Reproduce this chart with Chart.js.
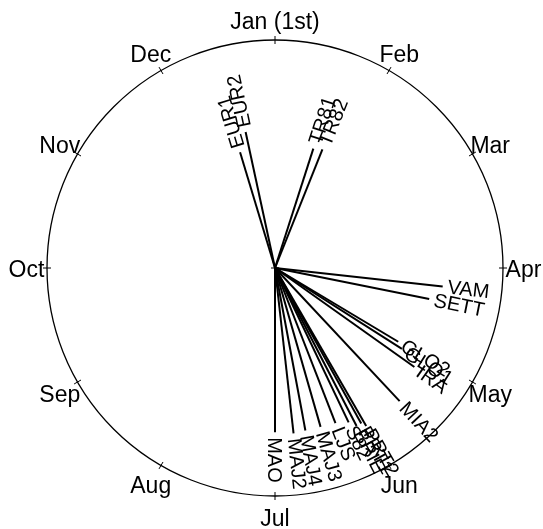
<!DOCTYPE html>
<html>
<head>
<meta charset="utf-8">
<script src="https://cdn.jsdelivr.net/npm/chart.js@4.4.1/dist/chart.umd.min.js"></script>
<style>
html,body{margin:0;padding:0;background:#fff;}
#c{display:block;}
</style>
</head>
<body>
<canvas id="c" width="543" height="529"></canvas>
<script>
// Month labels around the circle (clockwise from top)
const monthLabels = ["Jan (1st)","Feb","Mar","Apr","May","Jun","Jul","Aug","Sep","Oct","Nov","Dec"];
// Stations
const stations = ["EUR1","EUR2","TR81","TR82","VAM","SETT","GLO2","GLO1","IRA","MIA2","MAO","MAJ2","MAJ4","MAJ3","LJS","S82","BRIE","PRT1","PRT2"];
// Mean direction (degrees clockwise from Jan 1st)
const meanAngle = [343.2,347.8,17.8,21.8,96.3,101.4,120.9,122.5,125.4,136.9,180.0,173.6,169.4,164.0,158.7,154.5,152.7,151.0,150.0];
// Mean resultant length (0..1)
const resLength = [0.53,0.61,0.55,0.56,0.74,0.69,0.63,0.66,0.75,0.80,0.72,0.73,0.725,0.725,0.73,0.75,0.78,0.78,0.80];

const toXY = (deg, r) => {
  const a = deg * Math.PI / 180;
  return {x: r * Math.sin(a), y: r * Math.cos(a)};
};

const datasets = stations.map((s, i) => ({
  label: s,
  data: [{x:0,y:0}, toXY(meanAngle[i], resLength[i])],
  showLine: true,
  borderColor: '#000',
  borderWidth: 2,
  pointRadius: 0,
  fill: false
}));

const FONT = '"Liberation Sans", Arial, Helvetica, sans-serif';

const circlePlugin = {
  id: 'circ',
  beforeDatasetsDraw(chart) {
    const {ctx, scales:{x, y}} = chart;
    const cx = x.getPixelForValue(0), cy = y.getPixelForValue(0);
    const R = x.getPixelForValue(1) - cx;
    ctx.save();
    ctx.strokeStyle = '#000';
    ctx.lineWidth = 1.3;
    ctx.beginPath();
    ctx.arc(cx, cy, R, 0, Math.PI * 2);
    ctx.stroke();
    // month ticks and labels
    ctx.lineWidth = 1;
    ctx.fillStyle = '#000';
    ctx.font = '23px ' + FONT;
    ctx.textAlign = 'center';
    ctx.textBaseline = 'middle';
    monthLabels.forEach((m, i) => {
      const a = i * 30 * Math.PI / 180;
      const sx = Math.sin(a), sy = -Math.cos(a);
      ctx.beginPath();
      ctx.moveTo(cx + sx * (R - 4), cy + sy * (R - 4));
      ctx.lineTo(cx + sx * (R + 4), cy + sy * (R + 4));
      ctx.stroke();
      const lr = R * 1.09;
      ctx.fillText(m, cx + sx * lr, cy + sy * lr + 3);
    });
    // centre mark
    ctx.beginPath();
    ctx.moveTo(cx - 4, cy);
    ctx.lineTo(cx + 4, cy);
    ctx.moveTo(cx, cy - 4);
    ctx.lineTo(cx, cy + 4);
    ctx.stroke();
    ctx.restore();
  },
  afterDatasetsDraw(chart) {
    const {ctx, scales:{x, y}} = chart;
    ctx.save();
    ctx.fillStyle = '#000';
    ctx.font = '20px ' + FONT;
    ctx.textAlign = 'left';
    ctx.textBaseline = 'middle';
    stations.forEach((s, i) => {
      const p = toXY(meanAngle[i], resLength[i]);
      const px = x.getPixelForValue(p.x), py = y.getPixelForValue(p.y);
      const rot = (meanAngle[i] - 90) * Math.PI / 180;
      ctx.save();
      ctx.translate(px, py);
      ctx.rotate(rot);
      ctx.fillText(s, 5, 1);
      ctx.restore();
    });
    ctx.restore();
  }
};

// pixel-square mapping: centre at (275,268), radius 228 px
const R_PX = 228, CX = 275, CY = 268, W = 543, H = 529;

new Chart(document.getElementById('c'), {
  type: 'scatter',
  data: { datasets },
  options: {
    responsive: false,
    animation: false,
    events: [],
    layout: { padding: 0 },
    plugins: { legend: { display: false }, tooltip: { enabled: false } },
    scales: {
      x: { type: 'linear', display: false, min: -CX / R_PX, max: (W - CX) / R_PX },
      y: { type: 'linear', display: false, min: -(H - CY) / R_PX, max: CY / R_PX }
    }
  },
  plugins: [circlePlugin]
});
</script>
</body>
</html>
